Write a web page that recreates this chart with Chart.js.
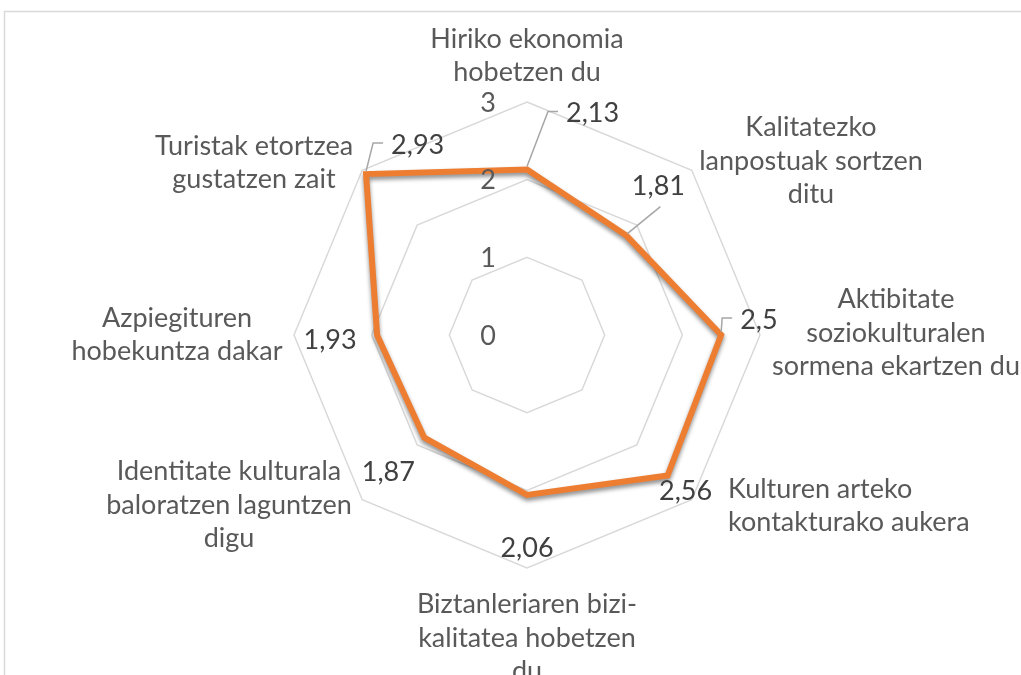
<!DOCTYPE html>
<html>
<head>
<meta charset="utf-8">
<script src="https://cdn.jsdelivr.net/npm/chart.js@4.4.1/dist/chart.umd.min.js"></script>
<style>
  html, body { margin: 0; padding: 0; background: #fff; }
  #wrap { position: relative; width: 1021px; height: 675px; }
</style>
</head>
<body>
<div id="wrap"><canvas id="radarChart"></canvas></div>
<script>
// categories, clockwise from the top
const categories = [
  ['Hiriko ekonomia', 'hobetzen du'],
  ['Kalitatezko', 'lanpostuak sortzen', 'ditu'],
  ['Aktibitate', 'soziokulturalen', 'sormena ekartzen du'],
  ['Kulturen arteko', 'kontakturako aukera'],
  ['Biztanleriaren bizi-', 'kalitatea hobetzen', 'du'],
  ['Identitate kulturala', 'baloratzen laguntzen', 'digu'],
  ['Azpiegituren', 'hobekuntza dakar'],
  ['Turistak etortzea', 'gustatzen zait']
];
const values = [2.13, 1.81, 2.5, 2.56, 2.06, 1.87, 1.93, 2.93];
const tickValues = [0, 1, 2, 3];

// label layout (offsets from the chart centre / from each point)
const catOffset = [[0, -279], [284, -174], [369, -2], [201, 171], [0, 303], [-298, 170], [-350, 0], [-273, -172]];
const catAlign = ['center', 'center', 'center', 'left', 'center', 'center', 'center', 'center'];
// [dx, dy, align, leader]
const valOffset = [
  [39, -56, 'left', 'elbow'],
  [32, -49, 'center', 'line'],
  [19, -15, 'left', 'elbow'],
  [18, 16, 'center', ''],
  [0, 53, 'center', ''],
  [-36, 35, 'center', ''],
  [-47, 5, 'center', ''],
  [25, -29, 'left', 'elbow']
];

const FONT = '27px Lato, "Open Sans", sans-serif';
const LINE_H = 33.5;

function fmt(v) {
  return String(v).replace('.', ',');
}

const overlay = {
  id: 'overlay',
  beforeDraw(chart) {
    const ctx = chart.ctx;
    ctx.save();
    ctx.strokeStyle = '#d9d9d9';
    ctx.lineWidth = 1.5;
    ctx.strokeRect(4.5, 11.5, 1300, 1000);
    ctx.restore();
  },
  beforeDatasetsDraw(chart) {
    const ctx = chart.ctx;
    ctx.save();
    ctx.shadowColor = 'rgba(0,0,0,0.45)';
    ctx.shadowBlur = 4;
    ctx.shadowOffsetX = 0;
    ctx.shadowOffsetY = 3;
  },
  afterDatasetsDraw(chart) {
    const ctx = chart.ctx;
    ctx.restore();
    const r = chart.scales.r;
    const cx = r.xCenter, cy = r.yCenter;

    ctx.save();
    ctx.font = FONT;
    ctx.textBaseline = 'middle';

    // tick labels, left of the vertical axis
    ctx.fillStyle = '#595959';
    ctx.textAlign = 'center';
    tickValues.forEach(t => {
      ctx.fillText(String(t), cx - 39, cy - r.getDistanceFromCenterForValue(t) + 1);
    });

    // category labels
    categories.forEach((lines, i) => {
      const [dx, dy] = catOffset[i];
      ctx.textAlign = catAlign[i];
      const y0 = cy + dy - (lines.length - 1) * LINE_H / 2;
      lines.forEach((s, k) => ctx.fillText(s, cx + dx, y0 + k * LINE_H));
    });

    // value labels with leader lines
    ctx.strokeStyle = '#a6a6a6';
    ctx.lineWidth = 1.5;
    values.forEach((v, i) => {
      const p = r.getPointPositionForValue(i, v);
      const [dx, dy, align, leader] = valOffset[i];
      const tx = p.x + dx, ty = p.y + dy;
      if (leader === 'elbow') {
        ctx.beginPath();
        ctx.moveTo(p.x, p.y - 3);
        ctx.lineTo(tx - 18, ty - 2);
        ctx.lineTo(tx - 8, ty - 2);
        ctx.stroke();
      } else if (leader === 'line') {
        ctx.beginPath();
        ctx.moveTo(p.x + 1, p.y - 2);
        ctx.lineTo(tx + 2, ty + 20);
        ctx.stroke();
      }
      ctx.fillStyle = '#404040';
      ctx.textAlign = align;
      ctx.fillText(fmt(v), tx, ty);
    });
    ctx.restore();
  }
};

new Chart(document.getElementById('radarChart').getContext('2d'), {
  type: 'radar',
  data: {
    labels: categories,
    datasets: [{
      data: values,
      borderColor: '#ED7D31',
      borderWidth: 6,
      backgroundColor: 'rgba(0,0,0,0)',
      fill: false,
      pointRadius: 0,
      pointHoverRadius: 0,
      tension: 0
    }]
  },
  options: {
    responsive: true,
    maintainAspectRatio: false,
    animation: false,
    layout: { padding: { left: 294, right: 261, top: 102, bottom: 107 } },
    plugins: {
      legend: { display: false },
      tooltip: { enabled: false }
    },
    scales: {
      r: {
        min: 0,
        max: 3,
        ticks: { display: false, stepSize: 1 },
        grid: { color: '#d9d9d9', lineWidth: 1.5 },
        angleLines: { display: false },
        pointLabels: { display: false }
      }
    }
  },
  plugins: [overlay]
});
</script>
</body>
</html>
